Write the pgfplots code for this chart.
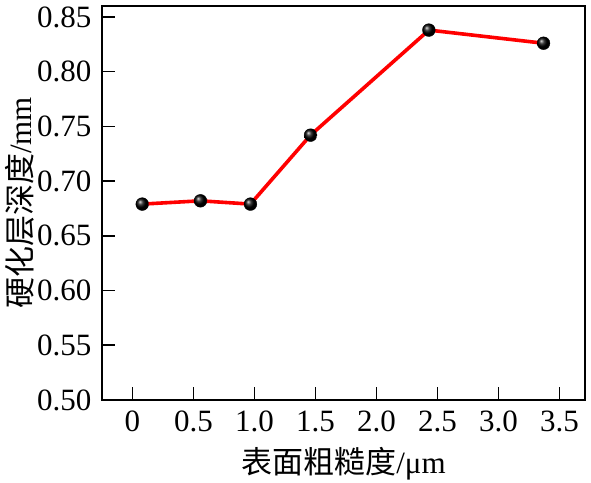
\documentclass[border=0pt]{standalone}
\usepackage{fontspec}
\setmainfont{Liberation Serif}
\newfontfamily\cjk{Noto Sans CJK SC}
\usepackage{pgfplots}
\pgfplotsset{compat=1.18}
\begin{document}
\fontsize{15.5}{18}\selectfont
\begin{tikzpicture}
\useasboundingbox (-51pt,-41.5pt) rectangle (244.5pt,200pt);
\begin{axis}[
  at={(0pt,0pt)}, anchor=south west,
  scale only axis, width=241.5pt, height=197pt,
  xmin=-0.25, xmax=3.71, ymin=0.50, ymax=0.86,
  xtick={0,0.5,1,1.5,2,2.5,3,3.5},
  xticklabels={0,0.5,1.0,1.5,2.0,2.5,3.0,3.5},
  ytick={0.50,0.55,0.60,0.65,0.70,0.75,0.80,0.85},
  yticklabel style={/pgf/number format/.cd,fixed,fixed zerofill,precision=2},
  /pgf/number format/assume math mode=true,
  tick align=inside, xtick pos=bottom, ytick pos=left,
  major tick length=6.5pt,
  tick style={black, line width=0.8pt},
  axis line style={line width=1pt},
  ticklabel style={font=\fontsize{15.5}{18}\selectfont},
  xlabel={{\cjk 表面粗糙度}/μm},
  ylabel={{\cjk 硬化层深度}/mm},
  label style={font=\fontsize{15.5}{18}\selectfont},
  xlabel style={yshift=3pt},
  ylabel style={yshift=-9pt},
]
\addplot[red, line width=1.8pt, mark=ball, mark size=3.2pt,
  mark options={ball color=black, draw=black, line width=0.2pt}]
  coordinates {(0.08,0.679) (0.557,0.682) (0.967,0.679) (1.46,0.742) (2.43,0.838) (3.37,0.826)};
\end{axis}
\end{tikzpicture}
\end{document}
